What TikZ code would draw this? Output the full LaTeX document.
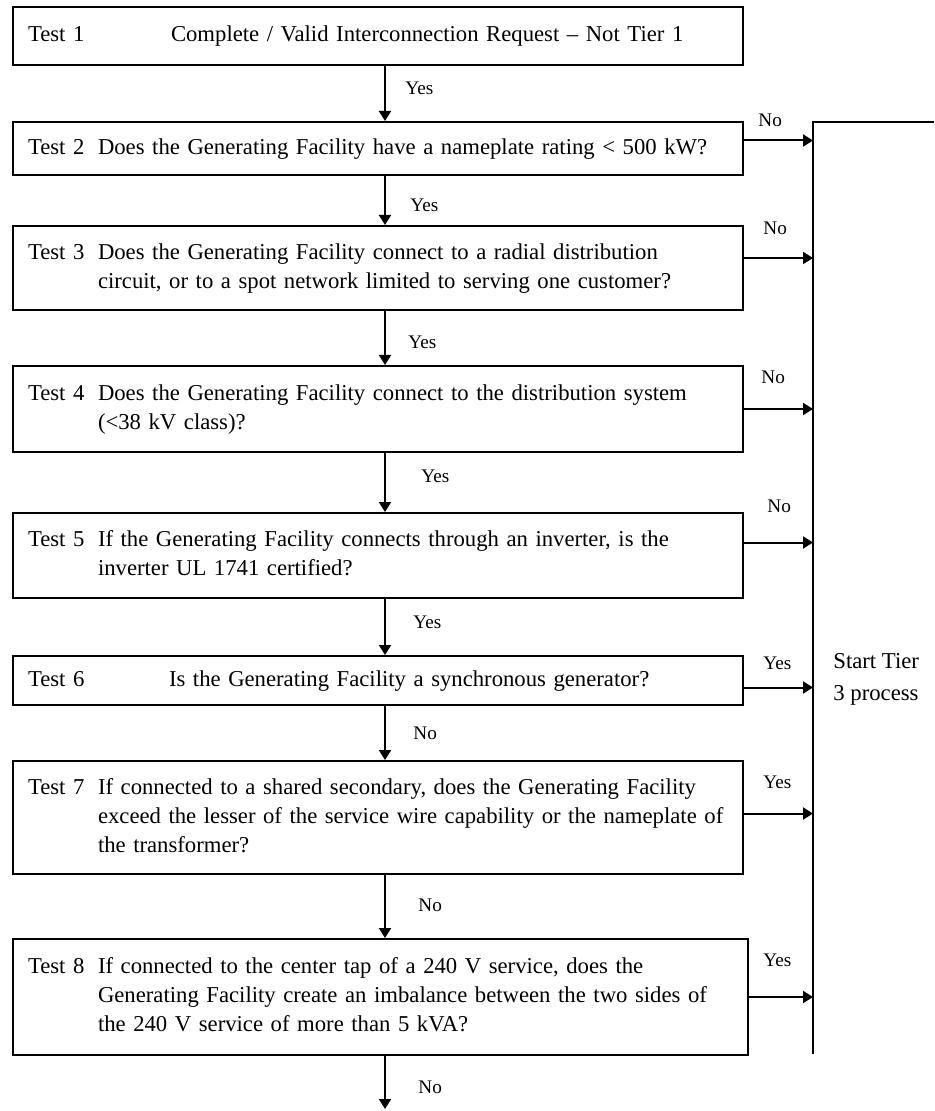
\documentclass[tikz,border=0pt]{standalone}
\usepackage{fontspec}
\setmainfont{Liberation Serif}
\usetikzlibrary{arrows.meta}
\usetikzlibrary{calc}

\newdimen\px \px=0.5pt
\newcommand{\bodyfont}{\fontsize{11.35}{14.5}\selectfont}
\newcommand{\answerfont}{\fontsize{9.6}{11}\selectfont}
\newcommand{\testtext}[2]{\noindent\makebox[70\px][l]{#1}\begin{tabular}[t]{@{}l@{}}#2\end{tabular}}

\tikzset{
  testbox/.style={draw, line width=1pt, rectangle, anchor=north west, inner xsep=15\px, inner ysep=0pt, text width=700\px, font=\bodyfont},
  flow/.style={line width=1pt, -{Triangle[length=5pt, width=6pt]}},
  answer/.style={anchor=west, inner sep=0pt, font=\answerfont},
}

\begin{document}
\begin{tikzpicture}[x=0.5pt, y=-0.5pt]
        \newcommand{\figtierspinex}{385}
        \newcommand{\figtierrailx}{813}
        \newcommand{\figtierrailtop}{122}
        \newcommand{\figtierrailbot}{1054}
        \useasboundingbox (0,0) rectangle (934,1111);
        % test boxes
        \node[testbox, minimum height=58\px] (b1) at (12,6) {\testtext{Test 1}{\hspace*{73\px}Complete / Valid Interconnection Request – Not Tier 1}};
        \node[testbox, minimum height=53\px] (b2) at (12,121) {\testtext{Test 2}{Does the Generating Facility have a nameplate rating < 500 kW?}};
        \node[testbox, minimum height=84\px] (b3) at (12,225) {\testtext{Test 3}{Does the Generating Facility connect to a radial distribution\\circuit, or to a spot network limited to serving one customer?}};
        \node[testbox, minimum height=86\px] (b4) at (12,365) {\testtext{Test 4}{Does the Generating Facility connect to the distribution system\\(<38 kV class)?}};
        \node[testbox, minimum height=85\px] (b5) at (12,512) {\testtext{Test 5}{If the Generating Facility connects through an inverter, is the\\inverter UL 1741 certified?}};
        \node[testbox, minimum height=49\px] (b6) at (12,655) {\testtext{Test 6}{\hspace*{71\px}Is the Generating Facility a synchronous generator?}};
        \node[testbox, minimum height=113\px] (b7) at (12,760) {\testtext{Test 7}{If connected to a shared secondary, does the Generating Facility\\exceed the lesser of the service wire capability or the nameplate of\\the transformer?}};
        \node[testbox, minimum height=116\px, text width=705\px] (b8) at (12,938) {\testtext{Test 8}{If connected to the center tap of a 240 V service, does the\\Generating Facility create an imbalance between the two sides of\\the 240 V service of more than 5 kVA?}};
        % main line down
        \coordinate (spine) at (\figtierspinex,0);
        \coordinate (exit) at (\figtierspinex,1109);
        \draw[flow] (b1.south -| spine) -- (b2.north -| spine);
        \draw[flow] (b2.south -| spine) -- (b3.north -| spine);
        \draw[flow] (b3.south -| spine) -- (b4.north -| spine);
        \draw[flow] (b4.south -| spine) -- (b5.north -| spine);
        \draw[flow] (b5.south -| spine) -- (b6.north -| spine);
        \draw[flow] (b6.south -| spine) -- (b7.north -| spine);
        \draw[flow] (b7.south -| spine) -- (b8.north -| spine);
        \draw[flow] (b8.south -| spine) -- (exit);
        \node[answer] (yes12) at (405,88) {Yes};
        \node[answer] (yes23) at (410,205) {Yes};
        \node[answer] (yes34) at (408,342) {Yes};
        \node[answer] (yes45) at (421,476) {Yes};
        \node[answer] (yes56) at (413,622) {Yes};
        \node[answer] (no67) at (413,733) {No};
        \node[answer] (no78) at (418,905) {No};
        \node[answer] (no8x) at (418,1087) {No};
        % tier 3 rail
        \coordinate (railtop) at (\figtierrailx,\figtierrailtop);
        \coordinate (railbot) at (\figtierrailx,\figtierrailbot);
        \coordinate (railend) at (934,\figtierrailtop);
        \draw[line width=1pt] (railend) -- (railtop) -- (railbot);
        \draw[flow] ([yshift=8\px]b2.east) coordinate (out2) -- (out2 -| railtop);
        \draw[flow] ([yshift=10\px]b3.east) coordinate (out3) -- (out3 -| railtop);
        \draw[flow] (b4.east) coordinate (out4) -- (out4 -| railtop);
        \draw[flow] ([yshift=13\px]b5.east) coordinate (out5) -- (out5 -| railtop);
        \draw[flow] ([yshift=-7\px]b6.east) coordinate (out6) -- (out6 -| railtop);
        \draw[flow] ([yshift=4\px]b7.east) coordinate (out7) -- (out7 -| railtop);
        \draw[flow] (b8.east) coordinate (out8) -- (out8 -| railtop);
        \node[answer] (no2) at (758,120) {No};
        \node[answer] (no3) at (763,228) {No};
        \node[answer] (no4) at (761,377) {No};
        \node[answer] (no5) at (767,506) {No};
        \node[answer] (yes6) at (763,663) {Yes};
        \node[answer] (yes7) at (763,782) {Yes};
        \node[answer] (yes8) at (763,960) {Yes};
        \node[anchor=west, align=left, inner sep=0pt, font=\fontsize{11.35}{16}\selectfont] (tier3) at (833,679) {Start Tier\\3 process};
    \end{tikzpicture}
\end{document}
